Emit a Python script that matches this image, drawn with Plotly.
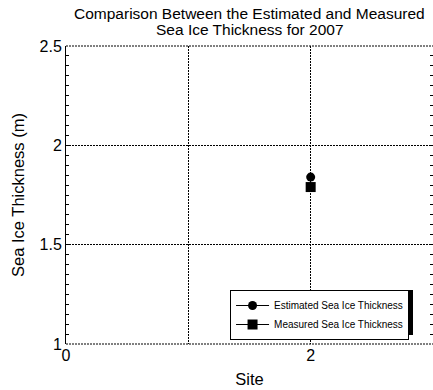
import plotly.graph_objects as go

sites = [2]
estimated = [1.84]
measured = [1.79]
x_tickvals = [0, 1, 2, 3]
x_ticktext = ["0", "", "2", ""]
y_tickvals = [1, 1.5, 2, 2.5]
y_ticktext = ["1", "1.5", "2", "2.5"]
title_lines = ["Comparison Between the Estimated and Measured", "Sea Ice Thickness for 2007"]
series_names = ["Estimated Sea Ice Thickness", "Measured Sea Ice Thickness"]

FONT = "Liberation Sans, Arial, sans-serif"
DASH = "2px,1px"

fig = go.Figure()
fig.add_trace(go.Scatter(
    x=sites, y=estimated, mode="lines+markers", name=series_names[0],
    marker=dict(symbol="circle", size=9, color="black"),
    line=dict(color="black", width=1)))
fig.add_trace(go.Scatter(
    x=sites, y=measured, mode="lines+markers", name=series_names[1],
    marker=dict(symbol="square", size=10, color="black"),
    line=dict(color="black", width=1)))

# title lines
fig.add_annotation(text=title_lines[0], xref="paper", yref="paper", x=0.501, y=1.1107,
                   xanchor="center", yanchor="middle", showarrow=False,
                   font=dict(size=15.5, family=FONT, color="black"))
fig.add_annotation(text=title_lines[1], xref="paper", yref="paper", x=0.501, y=1.0537,
                   xanchor="center", yanchor="middle", showarrow=False,
                   font=dict(size=15.5, family=FONT, color="black"))

# dotted frame lines at top and bottom (grid at range edges)
for yv in (0, 1):
    fig.add_shape(type="line", xref="paper", yref="paper", x0=0, x1=1, y0=yv, y1=yv,
                  line=dict(color="black", width=1, dash=DASH), layer="below")

# legend drop shadow
fig.add_shape(type="rect", xref="paper", yref="paper",
              x0=0.4523, x1=0.9455, y0=0.0302, y1=0.1812,
              line=dict(width=0), fillcolor="black", layer="above")

fig.update_layout(
    width=433, height=390,
    margin=dict(l=66, r=0, t=46, b=46),
    paper_bgcolor="white", plot_bgcolor="white",
    font=dict(family=FONT, color="black", size=16),
    showlegend=True,
    legend=dict(x=0.447, y=0.1812, xanchor="left", yanchor="top",
                bgcolor="white", bordercolor="black", borderwidth=1,
                font=dict(size=10, family=FONT), itemwidth=33,
                tracegroupgap=0),
)
fig.update_xaxes(
    range=[0, 3], tickmode="array", tickvals=x_tickvals, ticktext=x_ticktext,
    showgrid=True, gridcolor="black", griddash=DASH, gridwidth=1,
    showline=False, zeroline=False, ticks="",
    tickfont=dict(size=16), title=dict(text="Site", font=dict(size=16.5), standoff=10),
)
fig.update_yaxes(
    range=[1, 2.5], tickmode="array", tickvals=y_tickvals, ticktext=y_ticktext,
    showgrid=True, gridcolor="black", griddash=DASH, gridwidth=1,
    showline=True, linecolor="black", linewidth=1, mirror="ticks",
    zeroline=False, ticks="inside", ticklen=4, tickcolor="black",
    minor=dict(dtick=0.05, tick0=1, ticks="inside", ticklen=3, tickcolor="black", showgrid=False),
    tickfont=dict(size=16), title=dict(text="Sea Ice Thickness (m)", font=dict(size=16.5), standoff=10),
)
fig.write_html("out.html")
